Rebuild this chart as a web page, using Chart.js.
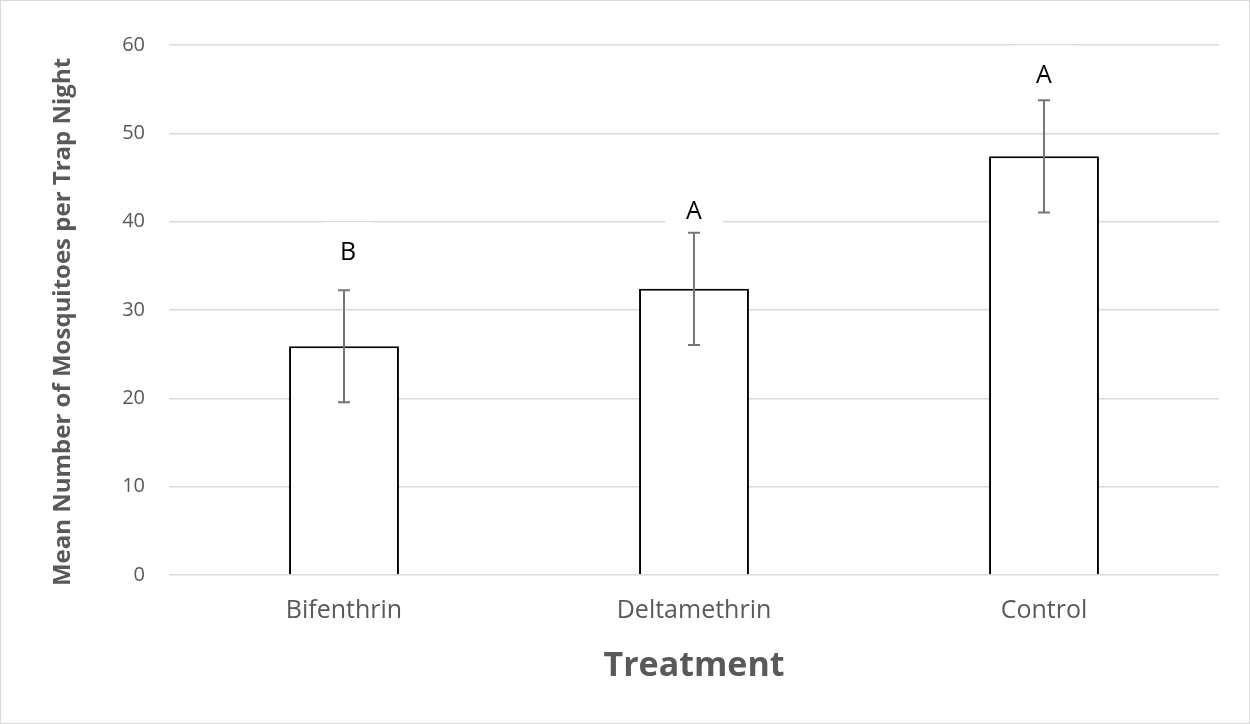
<!DOCTYPE html>
<html>
<head>
<meta charset="utf-8">
<script src="https://cdn.jsdelivr.net/npm/chart.js@4/dist/chart.umd.min.js"></script>
<style>
  html, body { margin: 0; padding: 0; background: #ffffff; }
  #wrap { position: relative; width: 1250px; height: 724px; box-sizing: border-box; border: 1px solid #d9d9d9; }
  canvas { display: block; }
</style>
</head>
<body>
<div id="wrap"><canvas id="c" width="1248" height="722"></canvas></div>
<script>
const categories = ["Bifenthrin", "Deltamethrin", "Control"];
const means = [25.9, 32.4, 47.4];
const errors = [6.35, 6.35, 6.35];
const letters = ["B", "A", "A"];
const yTicks = [0, 10, 20, 30, 40, 50, 60];
const xTitle = "Treatment";
const yTitle = "Mean Number of Mosquitoes per Trap Night";

const FONT = "'Open Sans', 'DejaVu Sans', sans-serif";

const errorBarPlugin = {
  id: "errorBars",
  afterDatasetsDraw(chart, args, opts) {
    const ctx = chart.ctx;
    const meta = chart.getDatasetMeta(0);
    const y = chart.scales.y;
    ctx.save();
    meta.data.forEach((bar, i) => {
      const x = bar.x;
      const top = y.getPixelForValue(means[i] + errors[i]);
      const bot = y.getPixelForValue(means[i] - errors[i]);
      ctx.strokeStyle = "#767676";
      ctx.lineWidth = 2;
      ctx.beginPath();
      ctx.moveTo(x, top); ctx.lineTo(x, bot);
      ctx.moveTo(x - 6, top); ctx.lineTo(x + 6, top);
      ctx.moveTo(x - 6, bot); ctx.lineTo(x + 6, bot);
      ctx.stroke();
      // letter label with white box
      const off = opts.offsets[i];
      const cx = x + opts.dx[i];
      const cy = top - off;
      ctx.fillStyle = "#ffffff";
      ctx.fillRect(cx - opts.boxW[i] / 2, cy - 31, opts.boxW[i], 46);
      ctx.fillStyle = "#000000";
      ctx.font = "25px " + FONT;
      ctx.textAlign = "center";
      ctx.textBaseline = "middle";
      ctx.fillText(letters[i], cx, cy);
    });
    ctx.restore();
  }
};

const yTitlePlugin = {
  id: "yTitle",
  afterDraw(chart, args, opts) {
    const ctx = chart.ctx;
    ctx.save();
    ctx.translate(opts.x, opts.y);
    ctx.rotate(-Math.PI / 2);
    ctx.fillStyle = "#595959";
    ctx.font = "bold 24px " + FONT;
    ctx.textAlign = "center";
    ctx.textBaseline = "middle";
    ctx.fillText(yTitle, 0, 0);
    ctx.restore();
  }
};

new Chart(document.getElementById("c"), {
  type: "bar",
  data: {
    labels: categories,
    datasets: [{
      data: means,
      backgroundColor: "#ffffff",
      borderColor: "#000000",
      borderWidth: 2,
      barPercentage: 1,
      categoryPercentage: 0.314
    }]
  },
  options: {
    responsive: false,
    animation: false,
    layout: { padding: { left: 100, right: 30, top: 44, bottom: 36 } },
    plugins: {
      legend: { display: false },
      tooltip: { enabled: false },
      errorBars: { offsets: [37, 21, 24], dx: [4, 0, 0], boxW: [51, 58, 59] },
      yTitle: { x: 62, y: 321 }
    },
    scales: {
      x: {
        afterFit(scale) { scale.height = 112; },
        grid: { display: false, drawTicks: false },
        border: { display: false },
        ticks: { color: "#595959", font: { family: FONT, size: 25 }, padding: 21, maxRotation: 0 },
        title: { display: true, text: xTitle, color: "#595959", font: { family: FONT, size: 34, weight: "bold" }, padding: { top: 0, bottom: 0 } }
      },
      y: {
        min: 0, max: 60,
        afterFit(scale) { scale.width = 68; },
        afterBuildTicks(scale) { scale.ticks = yTicks.map(v => ({ value: v })); },
        grid: { color: "#d9d9d9", lineWidth: 1.5, drawTicks: false },
        border: { display: false },
        ticks: { color: "#595959", font: { family: FONT, size: 20 }, padding: 24 },
        title: { display: false }
      }
    }
  },
  plugins: [errorBarPlugin, yTitlePlugin]
});
</script>
</body>
</html>
